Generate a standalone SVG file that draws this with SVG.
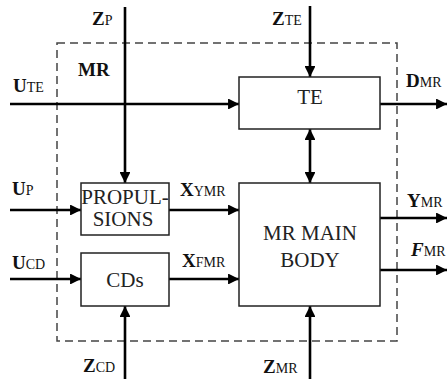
<svg xmlns="http://www.w3.org/2000/svg" width="447" height="379" viewBox="0 0 447 379">
<style>
.box{fill:#fff;stroke:#222;stroke-width:1.5}
.ln{stroke:#000;stroke-width:2.6;fill:none;marker-end:url(#ah)}
.bt{font-family:"Liberation Serif","Times New Roman",serif;font-size:21px;fill:#222;text-anchor:middle}
.lb{font-family:"Liberation Serif","Times New Roman",serif;font-size:19px;font-weight:bold;fill:#111}
.sb{font-size:14px;font-weight:normal}
</style>
<defs>
<marker id="ah" viewBox="0 0 10 10" refX="10" refY="5" markerWidth="4.4" markerHeight="4.2" orient="auto" markerUnits="strokeWidth">
<path d="M0,0 L10,5 L0,10 Z" fill="#000"/>
</marker>
<marker id="as" viewBox="0 0 10 10" refX="10" refY="5" markerWidth="4.4" markerHeight="4.2" orient="auto-start-reverse" markerUnits="strokeWidth">
<path d="M0,0 L10,5 L0,10 Z" fill="#000"/>
</marker>
</defs>
<rect x="57" y="43" width="340" height="298" fill="none" stroke="#444" stroke-width="1.5" stroke-dasharray="8,5"/>
<g id="connectors">
<line class="ln" x1="125" y1="7" x2="125" y2="183"/>
<line class="ln" x1="10" y1="104" x2="239" y2="104"/>
<line class="ln" x1="310" y1="6" x2="310" y2="77"/>
<line class="ln" x1="380" y1="104" x2="447" y2="104"/>
<line class="ln" x1="310" y1="129" x2="310" y2="183" marker-start="url(#as)"/>
<line class="ln" x1="10" y1="210" x2="81" y2="210"/>
<line class="ln" x1="169" y1="210" x2="239" y2="210"/>
<line class="ln" x1="10" y1="279" x2="81" y2="279"/>
<line class="ln" x1="169" y1="279" x2="239" y2="279"/>
<line class="ln" x1="380" y1="218" x2="447" y2="218"/>
<line class="ln" x1="380" y1="270" x2="447" y2="270"/>
<line class="ln" x1="125" y1="379" x2="125" y2="306"/>
<line class="ln" x1="310" y1="379" x2="310" y2="306"/>
</g>
<g id="te"><rect class="box" x="239" y="77" width="141" height="52"/><text class="bt" x="310" y="104">TE</text></g>
<g id="propulsions"><rect class="box" x="81" y="183" width="88" height="52"/><text class="bt" font-size="18"><tspan x="125" y="204">PROPUL-</tspan><tspan x="123" y="226">SIONS</tspan></text></g>
<g id="cds"><rect class="box" x="81" y="253" width="88" height="53"/><text class="bt" x="125" y="287">CDs</text></g>
<g id="main"><rect class="box" x="239" y="183" width="141" height="123"/><text class="bt"><tspan x="310" y="240">MR MAIN</tspan><tspan x="310" y="267">BODY</tspan></text></g>
<g id="labels">
<text class="lb" x="78" y="76" font-size="20">MR</text>
<text class="lb" x="92" y="25">Z<tspan class="sb">P</tspan></text>
<text class="lb" x="13" y="92">U<tspan class="sb">TE</tspan></text>
<text class="lb" x="272" y="25">Z<tspan class="sb">TE</tspan></text>
<text class="lb" x="406" y="87">D<tspan class="sb">MR</tspan></text>
<text class="lb" x="12" y="195">U<tspan class="sb">P</tspan></text>
<text class="lb" x="180" y="196">X<tspan class="sb">YMR</tspan></text>
<text class="lb" x="12" y="269">U<tspan class="sb">CD</tspan></text>
<text class="lb" x="182" y="267">X<tspan class="sb">FMR</tspan></text>
<text class="lb" x="407" y="207">Y<tspan class="sb">MR</tspan></text>
<text class="lb" x="411" y="256" font-weight="normal" font-style="italic">F<tspan class="sb" font-style="normal">MR</tspan></text>
<text class="lb" x="83" y="372">Z<tspan class="sb">CD</tspan></text>
<text class="lb" x="263" y="373">Z<tspan class="sb">MR</tspan></text>
</g>
</svg>
